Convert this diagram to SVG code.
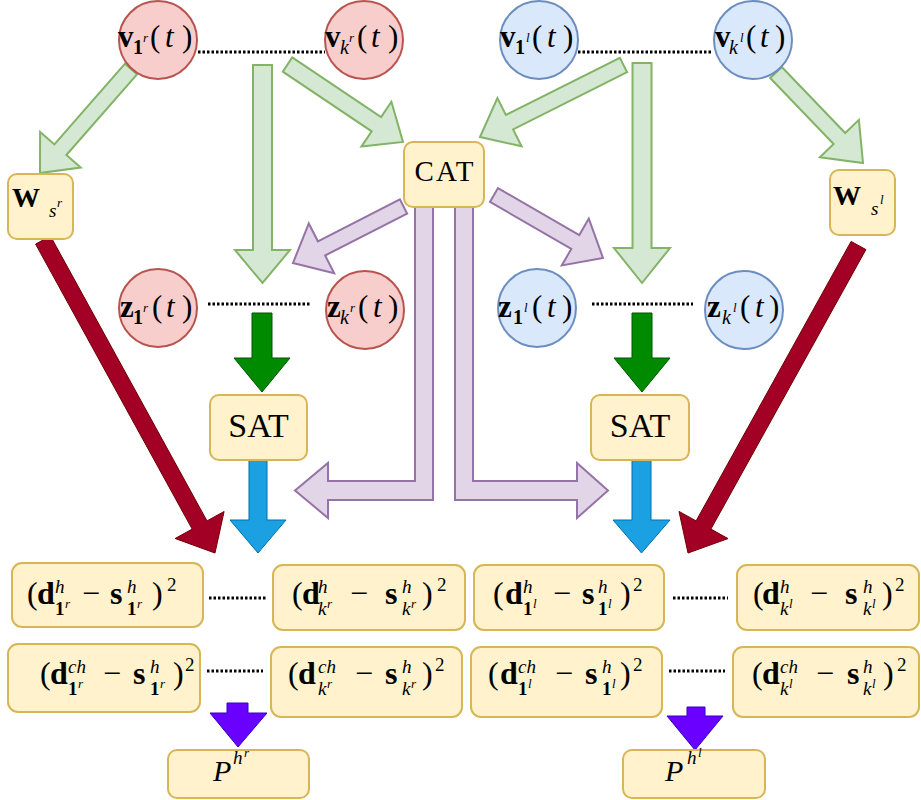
<svg xmlns="http://www.w3.org/2000/svg" width="921" height="800" viewBox="0 0 921 800">
<style>
.t{font-family:"Liberation Serif","DejaVu Serif",serif;fill:#000}
.M{font-size:32px}.C{font-size:31px}
.s{font-size:19px}.ss{font-size:13px}.cs{font-size:20px}
.b{font-weight:bold}.i{font-style:italic}
.ga{fill:#d5e8d4;stroke:#82b366;stroke-width:2;stroke-linejoin:miter}
.pa{fill:#e1d5e7;stroke:#9673a6;stroke-width:2}
.dg{fill:#008a00;stroke:#005700;stroke-width:1}
.bl{fill:#1ba1e2;stroke:#006eaf;stroke-width:1}
.rd{fill:#a20025;stroke:#6f0000;stroke-width:1}
.vi{fill:#6a00ff;stroke:#3700cc;stroke-width:1}
.dot{stroke:#000;stroke-width:3;stroke-dasharray:2.5 2;fill:none}
.box{fill:#fff2cc;stroke:#d6b656;stroke-width:2}
.rc{fill:#f8cecc;stroke:#b85450;stroke-width:2}
.bc{fill:#dae8fc;stroke:#6c8ebf;stroke-width:2}
</style>
<g id="connectors">
<line class="dot" x1="198" y1="52" x2="325" y2="52"/>
<line class="dot" x1="578" y1="52" x2="713" y2="52"/>
<line class="dot" x1="208" y1="304" x2="310" y2="304"/>
<line class="dot" x1="592" y1="304" x2="693" y2="304"/>
<line class="dot" x1="209" y1="598" x2="267" y2="598"/>
<line class="dot" x1="673" y1="598" x2="728" y2="598"/>
<line class="dot" x1="207" y1="671" x2="263" y2="671"/>
<line class="dot" x1="669" y1="671" x2="725" y2="671"/>
<polygon class="ga" points="137,74.3 66.4,155 80.7,167.5 40,173 40.1,131.9 54.4,144.4 125,63.7"/>
<polygon class="ga" points="253,65 272,65 272,250 290,250 262.5,283 235,250 253,250"/>
<polygon class="ga" points="292.2,57.4 381.1,117.1 391.4,101.8 403,142 361.4,146.6 371.7,131.3 282.8,71.6"/>
<polygon class="ga" points="627.1,72.2 513.1,129.4 521.6,146.3 480,137 497.4,98.1 505.9,115 619.9,57.8"/>
<polygon class="ga" points="632.5,63 651.5,63 651.5,248 670,248 642,283 614,248 632.5,248"/>
<polygon class="ga" points="781.8,67 845.2,133 858.9,119.8 863,163 819.9,157.2 833.6,144 770.2,78"/>
<polygon class="pa" points="407.1,213.6 325.1,255.5 334.2,273.3 293,263 308.8,223.5 317.9,241.3 399.9,199.4"/>
<polygon class="pa" points="490,201.9 571.3,248.9 561.8,265.4 603,258 588.8,218.6 579.3,235.1 498,188.1"/>
<polygon class="pa" points="415,207 433,207 433,500 328,500 328,518 295,490.5 328,463 328,481 415,481"/>
<polygon class="pa" points="455,207 473,207 473,481 577,481 577,463 608,490.5 577,518 577,500 455,500"/>
<polygon class="dg" points="252,313 272,313 272,358 290,358 262,392 234,358 252,358"/>
<polygon class="dg" points="632,313 652,313 652,358 670,358 642,392 614,358 632,358"/>
<polygon class="bl" points="249,460 267,460 267,520 286,520 258,553 230,520 249,520"/>
<polygon class="bl" points="632,460 651,460 651,520 670,520 641.5,553 613,520 632,520"/>
<polygon class="rd" points="50.4,235.9 207,520.9 224.1,511.5 215,553 175.1,538.5 192.2,529.1 35.6,244.1"/>
<polygon class="rd" points="865.9,249.6 710.9,529.1 728,538.6 688,553 679,511.4 696.1,520.9 851.1,241.4"/>
<polygon class="vi" points="227,703 248,703 248,713 267,713 238,747 210,713 227,713"/>
<polygon class="vi" points="687,707 705,707 705,716 723,716 695,750 667,716 687,716"/>
</g>
<g id="v1r"><circle class="rc" cx="158" cy="40" r="39"/>
<text class="t C" y="47"><tspan x="118" y="47" class="b">v</tspan><tspan x="133" y="54" class="cs b">1</tspan><tspan x="143" y="42" class="ss i">r</tspan><tspan x="150" y="47">(</tspan><tspan x="165" y="47" class="i">t</tspan><tspan x="182" y="47">)</tspan></text></g>
<g id="vkr"><circle class="rc" cx="364" cy="40" r="39"/>
<text class="t C" y="47"><tspan x="325" y="47" class="b">v</tspan><tspan x="340" y="54" class="cs i">k</tspan><tspan x="349" y="42" class="ss i">r</tspan><tspan x="357" y="47">(</tspan><tspan x="371" y="47" class="i">t</tspan><tspan x="388" y="47">)</tspan></text></g>
<g id="v1l"><circle class="bc" cx="539" cy="40" r="39"/>
<text class="t C" y="47"><tspan x="500" y="47" class="b">v</tspan><tspan x="515" y="54" class="cs b">1</tspan><tspan x="526" y="42" class="ss i">l</tspan><tspan x="532" y="47">(</tspan><tspan x="547" y="47" class="i">t</tspan><tspan x="563" y="47">)</tspan></text></g>
<g id="vkl"><circle class="bc" cx="753" cy="40" r="39"/>
<text class="t C" y="47"><tspan x="715" y="47" class="b">v</tspan><tspan x="729" y="54" class="cs i">k</tspan><tspan x="740" y="42" class="ss i">l</tspan><tspan x="746" y="47">(</tspan><tspan x="760" y="47" class="i">t</tspan><tspan x="775" y="47">)</tspan></text></g>
<g id="Wsr"><rect class="box" x="8" y="174" width="65" height="65" rx="9"/>
<text class="t" y="207"><tspan x="12" y="207" font-size="28" class="b">W</tspan><tspan x="49" y="217" font-size="19" class="i">s</tspan><tspan x="57" y="207" font-size="13" class="i">r</tspan></text></g>
<g id="Wsl"><rect class="box" x="830" y="170" width="65" height="65" rx="9"/>
<text class="t" y="205"><tspan x="833" y="205" font-size="28" class="b">W</tspan><tspan x="871" y="215" font-size="19" class="i">s</tspan><tspan x="880" y="204" font-size="13" class="i">l</tspan></text></g>
<g id="CAT"><rect class="box" x="404" y="142" width="80" height="65" rx="9"/>
<text class="t" x="445" y="181" font-size="29" letter-spacing="2" text-anchor="middle">CAT</text></g>
<g id="z1r"><circle class="rc" cx="158" cy="308" r="39"/>
<text class="t C" y="317"><tspan x="120" y="317" class="b">z</tspan><tspan x="133" y="324" class="cs b">1</tspan><tspan x="143" y="312" class="ss i">r</tspan><tspan x="152" y="317">(</tspan><tspan x="166" y="317" class="i">t</tspan><tspan x="182" y="317">)</tspan></text></g>
<g id="zkr"><circle class="rc" cx="365" cy="310" r="39"/>
<text class="t C" y="317"><tspan x="327" y="317" class="b">z</tspan><tspan x="340" y="324" class="cs i">k</tspan><tspan x="350" y="312" class="ss i">r</tspan><tspan x="358" y="317">(</tspan><tspan x="373" y="317" class="i">t</tspan><tspan x="388" y="317">)</tspan></text></g>
<g id="z1l"><circle class="bc" cx="537" cy="308" r="39"/>
<text class="t C" y="317"><tspan x="498" y="317" class="b">z</tspan><tspan x="513" y="324" class="cs b">1</tspan><tspan x="524" y="312" class="ss i">l</tspan><tspan x="532" y="317">(</tspan><tspan x="547" y="317" class="i">t</tspan><tspan x="562" y="317">)</tspan></text></g>
<g id="zkl"><circle class="bc" cx="744" cy="310" r="39"/>
<text class="t C" y="317"><tspan x="707" y="317" class="b">z</tspan><tspan x="722" y="324" class="cs i">k</tspan><tspan x="733" y="312" class="ss i">l</tspan><tspan x="740" y="317">(</tspan><tspan x="755" y="317" class="i">t</tspan><tspan x="769" y="317">)</tspan></text></g>
<g id="SATr"><rect class="box" x="210" y="395" width="97" height="65" rx="9"/>
<text class="t" x="258.5" y="437" font-size="34" text-anchor="middle">SAT</text></g>
<g id="SATl"><rect class="box" x="591" y="395" width="98" height="65" rx="9"/>
<text class="t" x="640" y="437" font-size="34" text-anchor="middle">SAT</text></g>
<g id="e1r"><rect class="box" x="12" y="563" width="191" height="64" rx="10"/>
<text class="t M" y="604"><tspan x="27" y="604">(</tspan><tspan x="37" y="604" class="b">d</tspan><tspan x="55" y="593" class="s i">h</tspan><tspan x="55" y="615" class="s b">1</tspan><tspan x="65" y="608" class="ss i">r</tspan><tspan x="82" y="604">−</tspan><tspan x="110" y="604" class="b">s</tspan><tspan x="127" y="593" class="s i">h</tspan><tspan x="127" y="615" class="s b">1</tspan><tspan x="137" y="608" class="ss i">r</tspan><tspan x="152" y="604">)</tspan><tspan x="167" y="591" class="s">2</tspan></text></g>
<g id="ekr"><rect class="box" x="273" y="565" width="192" height="65" rx="10"/>
<text class="t M" y="604"><tspan x="292" y="604">(</tspan><tspan x="302" y="604" class="b">d</tspan><tspan x="318" y="593" class="s i">h</tspan><tspan x="318" y="615" class="s i">k</tspan><tspan x="327" y="608" class="ss i">r</tspan><tspan x="350" y="604">−</tspan><tspan x="385" y="604" class="b">s</tspan><tspan x="402" y="593" class="s i">h</tspan><tspan x="402" y="615" class="s i">k</tspan><tspan x="411" y="608" class="ss i">r</tspan><tspan x="422" y="604">)</tspan><tspan x="437" y="591" class="s">2</tspan></text></g>
<g id="e1l"><rect class="box" x="474" y="565" width="190" height="65" rx="10"/>
<text class="t M" y="604"><tspan x="493" y="604">(</tspan><tspan x="505" y="604" class="b">d</tspan><tspan x="523" y="593" class="s i">h</tspan><tspan x="523" y="615" class="s b">1</tspan><tspan x="533" y="608" class="ss i">l</tspan><tspan x="553" y="604">−</tspan><tspan x="582" y="604" class="b">s</tspan><tspan x="598" y="593" class="s i">h</tspan><tspan x="598" y="615" class="s b">1</tspan><tspan x="608" y="608" class="ss i">l</tspan><tspan x="620" y="604">)</tspan><tspan x="633" y="591" class="s">2</tspan></text></g>
<g id="ekl"><rect class="box" x="737" y="565" width="182" height="65" rx="10"/>
<text class="t M" y="604"><tspan x="753" y="604">(</tspan><tspan x="762" y="604" class="b">d</tspan><tspan x="780" y="593" class="s i">h</tspan><tspan x="780" y="615" class="s i">k</tspan><tspan x="789" y="608" class="ss i">l</tspan><tspan x="810" y="604">−</tspan><tspan x="845" y="604" class="b">s</tspan><tspan x="863" y="593" class="s i">h</tspan><tspan x="863" y="615" class="s i">k</tspan><tspan x="872" y="608" class="ss i">l</tspan><tspan x="882" y="604">)</tspan><tspan x="895" y="591" class="s">2</tspan></text></g>
<g id="c1r"><rect class="box" x="8" y="644" width="192" height="68" rx="10"/>
<text class="t M" y="684"><tspan x="40" y="684">(</tspan><tspan x="50" y="684" class="b">d</tspan><tspan x="68" y="673" class="s i">ch</tspan><tspan x="68" y="695" class="s b">1</tspan><tspan x="78" y="688" class="ss i">r</tspan><tspan x="103" y="684">−</tspan><tspan x="133" y="684" class="b">s</tspan><tspan x="150" y="673" class="s i">h</tspan><tspan x="150" y="695" class="s b">1</tspan><tspan x="160" y="688" class="ss i">r</tspan><tspan x="173" y="684">)</tspan><tspan x="185" y="671" class="s">2</tspan></text></g>
<g id="ckr"><rect class="box" x="271" y="647" width="191" height="70" rx="10"/>
<text class="t M" y="684"><tspan x="288" y="684">(</tspan><tspan x="298" y="684" class="b">d</tspan><tspan x="318" y="673" class="s i">ch</tspan><tspan x="318" y="695" class="s i">k</tspan><tspan x="327" y="688" class="ss i">r</tspan><tspan x="355" y="684">−</tspan><tspan x="385" y="684" class="b">s</tspan><tspan x="402" y="673" class="s i">h</tspan><tspan x="402" y="695" class="s i">k</tspan><tspan x="411" y="688" class="ss i">r</tspan><tspan x="422" y="684">)</tspan><tspan x="435" y="671" class="s">2</tspan></text></g>
<g id="c1l"><rect class="box" x="471" y="647" width="191" height="70" rx="10"/>
<text class="t M" y="684"><tspan x="488" y="684">(</tspan><tspan x="500" y="684" class="b">d</tspan><tspan x="518" y="673" class="s i">ch</tspan><tspan x="518" y="695" class="s b">1</tspan><tspan x="528" y="688" class="ss i">l</tspan><tspan x="555" y="684">−</tspan><tspan x="585" y="684" class="b">s</tspan><tspan x="602" y="673" class="s i">h</tspan><tspan x="602" y="695" class="s b">1</tspan><tspan x="612" y="688" class="ss i">l</tspan><tspan x="620" y="684">)</tspan><tspan x="633" y="671" class="s">2</tspan></text></g>
<g id="ckl"><rect class="box" x="733" y="647" width="186" height="70" rx="10"/>
<text class="t M" y="684"><tspan x="752" y="684">(</tspan><tspan x="762" y="684" class="b">d</tspan><tspan x="780" y="673" class="s i">ch</tspan><tspan x="780" y="695" class="s i">k</tspan><tspan x="789" y="688" class="ss i">l</tspan><tspan x="816" y="684">−</tspan><tspan x="847" y="684" class="b">s</tspan><tspan x="863" y="673" class="s i">h</tspan><tspan x="863" y="695" class="s i">k</tspan><tspan x="872" y="688" class="ss i">l</tspan><tspan x="883" y="684">)</tspan><tspan x="897" y="671" class="s">2</tspan></text></g>
<g id="Phr"><rect class="box" x="168" y="750" width="141" height="48" rx="9"/>
<text class="t" y="781"><tspan x="213" y="781" font-size="30" class="i">P</tspan><tspan x="233" y="764" font-size="19" class="i">h</tspan><tspan x="244" y="757" font-size="13" class="i">r</tspan></text></g>
<g id="Phl"><rect class="box" x="623" y="750" width="142" height="48" rx="9"/>
<text class="t" y="781"><tspan x="665" y="781" font-size="30" class="i">P</tspan><tspan x="687" y="764" font-size="19" class="i">h</tspan><tspan x="698" y="757" font-size="13" class="i">l</tspan></text></g>
</svg>
